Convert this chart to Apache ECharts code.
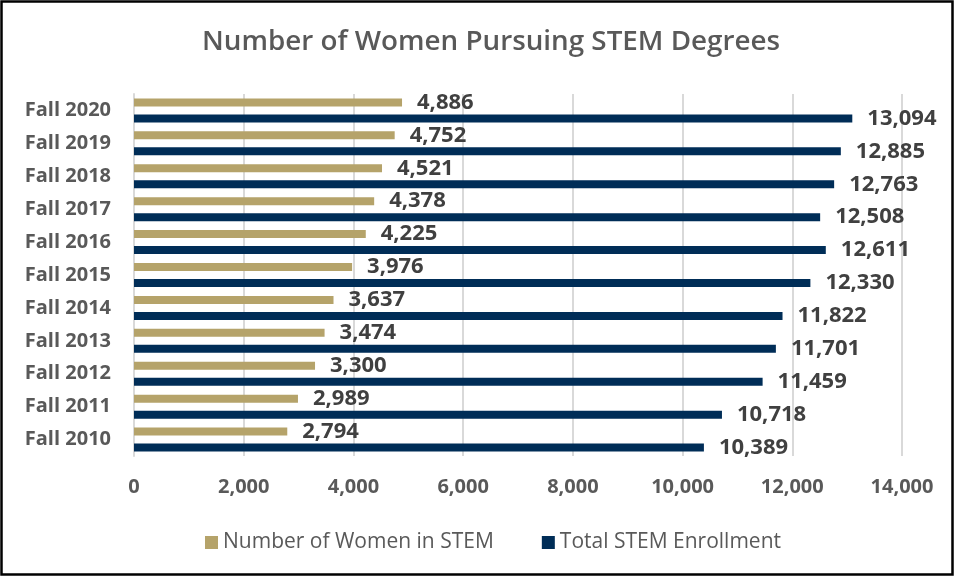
<!DOCTYPE html>
<html>
<head>
<meta charset="utf-8">
<script src="https://cdn.jsdelivr.net/npm/echarts@6/dist/echarts.min.js"></script>
<style>
html,body{margin:0;padding:0;background:#fff;}
#chart{width:956px;height:577px;}
</style>
</head>
<body>
<div id="chart"></div>
<script>
var categories = ['Fall 2010','Fall 2011','Fall 2012','Fall 2013','Fall 2014','Fall 2015','Fall 2016','Fall 2017','Fall 2018','Fall 2019','Fall 2020'];
var women = [2794, 2989, 3300, 3474, 3637, 3976, 4225, 4378, 4521, 4752, 4886];
var total = [10389, 10718, 11459, 11701, 11822, 12330, 12611, 12508, 12763, 12885, 13094];
var seriesNames = ['Number of Women in STEM', 'Total STEM Enrollment'];
var titleText = 'Number of Women Pursuing STEM Degrees';

function fmt(v){ return String(v).replace(/\B(?=(\d{3})+(?!\d))/g, ','); }

var font = "'Open Sans', 'Noto Sans', sans-serif";
var chart = echarts.init(document.getElementById('chart'));
chart.setOption({
  animation: false,
  textStyle: {fontFamily: font},
  title: {
    text: titleText, left: 197, top: 23,
    textStyle: {fontSize: 27.8, fontWeight: 600, color: '#595959', fontFamily: font}
  },
  graphic: [{
    type: 'rect', shape: {x: 1.5, y: 1.5, width: 951, height: 573},
    style: {fill: 'none', stroke: '#000', lineWidth: 2.5}, silent: true
  }],
  legend: {
    top: 527, left: 200, icon: 'rect', itemWidth: 13, itemHeight: 13, itemGap: 48,
    textStyle: {fontSize: 21, color: '#595959', fontFamily: font},
    data: seriesNames
  },
  grid: {left: 134, right: 54, top: 94, bottom: 121, containLabel: false},
  xAxis: {
    type: 'value', min: 0, max: 14000, interval: 2000,
    axisLine: {show: false}, axisTick: {show: false},
    axisLabel: {formatter: fmt, fontSize: 20, fontWeight: 'bold', color: '#595959', margin: 21, fontFamily: font},
    splitLine: {lineStyle: {color: '#D9D9D9', width: 2}}
  },
  yAxis: {
    type: 'category', data: categories,
    axisLine: {show: true, lineStyle: {color: '#D9D9D9', width: 2}},
    axisTick: {show: false},
    axisLabel: {fontSize: 20, fontWeight: 'bold', color: '#595959', margin: 23, fontFamily: font}
  },
  series: [
    {
      name: seriesNames[0], type: 'bar', data: women, barWidth: 8, barGap: '100%',
      itemStyle: {color: '#B5A36A'},
      label: {show: true, position: 'right', distance: 15, formatter: function(p){return fmt(p.value);},
        fontSize: 22, fontWeight: 'bold', color: '#404040', fontFamily: font}
    },
    {
      name: seriesNames[1], type: 'bar', data: total, barWidth: 8, barGap: '100%',
      itemStyle: {color: '#002D57'},
      label: {show: true, position: 'right', distance: 15, formatter: function(p){return fmt(p.value);},
        fontSize: 22, fontWeight: 'bold', color: '#404040', fontFamily: font}
    }
  ]
});
</script>
</body>
</html>
